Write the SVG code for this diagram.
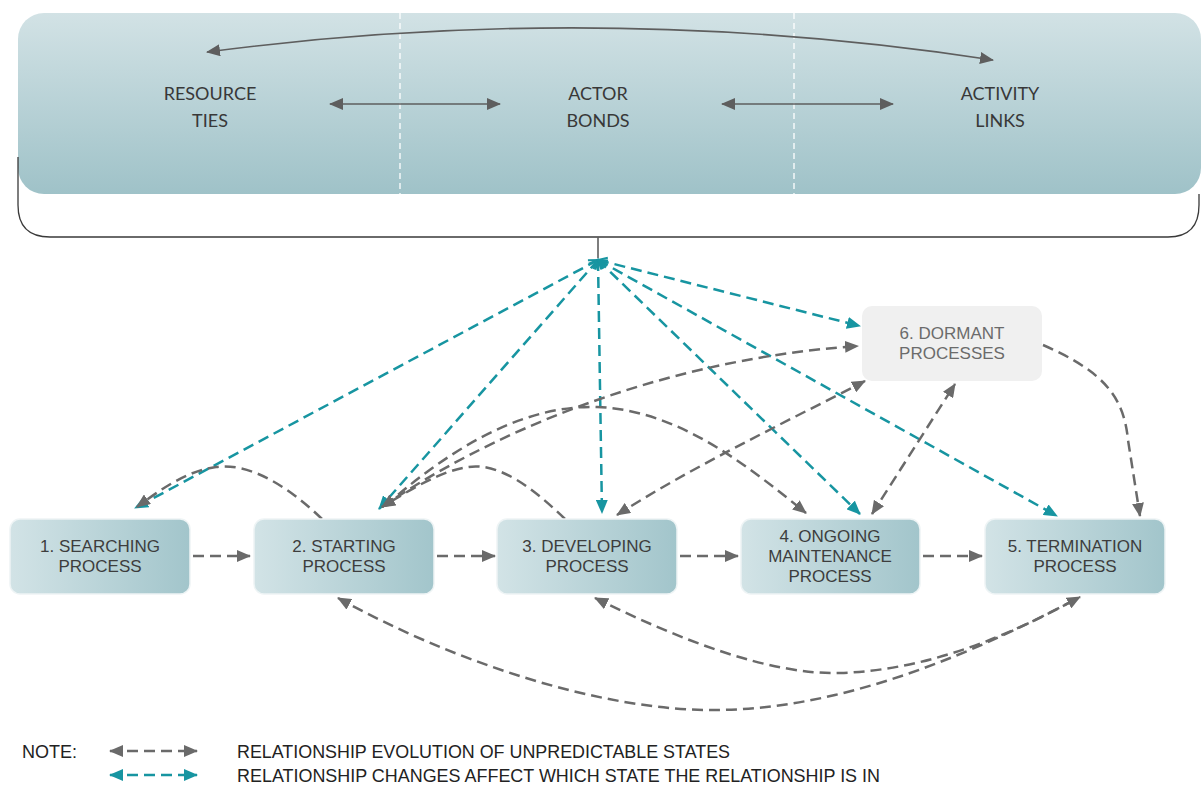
<svg xmlns="http://www.w3.org/2000/svg" width="1201" height="788" viewBox="0 0 1201 788">
<style>
.lbl{font-family:"Liberation Sans",Arial,sans-serif;font-size:17px;fill:#3d3d3d;text-anchor:middle}
.dlbl{font-family:"Liberation Sans",Arial,sans-serif;font-size:17px;fill:#6b6b6b;text-anchor:middle}
.top{font-family:Lato,"Open Sans",sans-serif;font-size:18px;fill:#383838;text-anchor:middle}
.leg{font-family:"Liberation Sans",Arial,sans-serif;font-size:18px;fill:#222}
.g{fill:none;stroke:#6a6a6a;stroke-width:2.5;stroke-dasharray:11 6}
.t{fill:none;stroke:#1795a1;stroke-width:2.5;stroke-dasharray:11 6}
.solid{fill:none;stroke:#5e5e5e;stroke-width:1.6}
</style>
<defs>
<linearGradient id="topG" x1="0" y1="0" x2="0" y2="1">
<stop offset="0" stop-color="#d2e2e5"/>
<stop offset="1" stop-color="#9fc2c8"/>
</linearGradient>
<linearGradient id="nodeG" x1="0" y1="0" x2="1" y2="0">
<stop offset="0" stop-color="#d2e3e6"/>
<stop offset="1" stop-color="#a2c5cb"/>
</linearGradient>
<marker id="ag" markerUnits="userSpaceOnUse" markerWidth="14" markerHeight="12" refX="13" refY="6" orient="auto-start-reverse">
<path d="M0,0 L14,6 L0,12 z" fill="#6a6a6a"/>
</marker>
<marker id="at" markerUnits="userSpaceOnUse" markerWidth="14" markerHeight="12" refX="13" refY="6" orient="auto-start-reverse">
<path d="M0,0 L14,6 L0,12 z" fill="#1795a1"/>
</marker>
<marker id="ah" markerUnits="userSpaceOnUse" markerWidth="12" markerHeight="12" refX="10" refY="6" orient="auto-start-reverse">
<path d="M1,1.5 L10,6 L1,10.5" fill="none" stroke="#1795a1" stroke-width="2"/>
</marker>
<marker id="as" markerUnits="userSpaceOnUse" markerWidth="14" markerHeight="12" refX="13" refY="6" orient="auto-start-reverse">
<path d="M0,0 L14,6 L0,12 z" fill="#5e5e5e"/>
</marker>
</defs>

<g id="top-panel">
<rect x="18" y="13" width="1183" height="181" rx="26" fill="url(#topG)"/>
<line x1="400" y1="13" x2="400" y2="194" stroke="#ffffff" stroke-width="1.3" stroke-dasharray="6 4"/>
<line x1="794" y1="13" x2="794" y2="194" stroke="#ffffff" stroke-width="1.3" stroke-dasharray="6 4"/>
<text class="top" x="210" y="100">RESOURCE</text>
<text class="top" x="210" y="127">TIES</text>
<text class="top" x="598" y="100">ACTOR</text>
<text class="top" x="598" y="127">BONDS</text>
<text class="top" x="1000" y="100">ACTIVITY</text>
<text class="top" x="1000" y="127">LINKS</text>
<path class="solid" d="M330,104 H500" marker-start="url(#as)" marker-end="url(#as)"/>
<path class="solid" d="M722,104 H893" marker-start="url(#as)" marker-end="url(#as)"/>
<path class="solid" d="M207,52 Q600,0 993,60" marker-start="url(#as)" marker-end="url(#as)"/>
</g>

<g id="bracket">
<path d="M18,157 V205 Q18,237 50,237 H1168 Q1199,237 1199,205 V194" fill="none" stroke="#3a3a3a" stroke-width="1.3"/>
<path d="M598,237 V258" fill="none" stroke="#5e5e5e" stroke-width="1.6"/>
</g>

<g id="connectors">
<!-- teal -->
<path class="t" d="M598,260 L135,508" marker-start="url(#ah)" marker-end="url(#at)"/>
<path class="t" d="M598,260 L379,509" marker-start="url(#ah)" marker-end="url(#at)"/>
<path class="t" d="M598,260 L602,513" marker-start="url(#ah)" marker-end="url(#at)"/>
<path class="t" d="M598,260 L860,514" marker-start="url(#ah)" marker-end="url(#at)"/>
<path class="t" d="M598,260 L1057,516" marker-start="url(#ah)" marker-end="url(#at)"/>
<path class="t" d="M598,260 L860,326" marker-start="url(#ah)" marker-end="url(#at)"/>
<!-- gray horizontal -->
<path class="g" d="M193,556 H250" marker-end="url(#ag)"/>
<path class="g" d="M437,556 H495" marker-end="url(#ag)"/>
<path class="g" d="M680,556 H738" marker-end="url(#ag)"/>
<path class="g" d="M923,556 H982" marker-end="url(#ag)"/>
<!-- gray arches -->
<path class="g" d="M322,519 C292,490 252,462 216,467 C186,471 160,490 137,507" marker-end="url(#ag)"/>
<path class="g" d="M565,519 C535,490 500,462 468,467 C440,471 410,490 382,507" marker-end="url(#ag)"/>
<path class="g" d="M382,507 C480,440 650,360 858,346" marker-start="url(#ag)" marker-end="url(#ag)"/>
<path class="g" d="M385,506 C460,440 530,405 597,407 C680,410 750,468 806,513" marker-end="url(#ag)"/>
<path class="g" d="M617,515 C690,468 780,425 865,381" marker-start="url(#ag)" marker-end="url(#ag)"/>
<path class="g" d="M872,514 L955,384" marker-start="url(#ag)" marker-end="url(#ag)"/>
<path class="g" d="M1043,345 C1105,372 1124,398 1128,440 L1140,516" marker-end="url(#ag)"/>
<path class="g" d="M338,598 C450,660 600,712 720,710 C850,708 980,650 1080,597" marker-start="url(#ag)" marker-end="url(#ag)"/>
<path class="g" d="M595,598 C680,640 770,675 840,673 C930,670 1010,635 1078,598" marker-start="url(#ag)"/>
</g>

<g id="node1">
<rect x="10" y="519" width="180" height="75" rx="10" fill="url(#nodeG)" stroke="#eef4f5" stroke-width="1.5"/>
<text class="lbl" x="100" y="552">1. SEARCHING</text>
<text class="lbl" x="100" y="572">PROCESS</text>
</g>
<g id="node2">
<rect x="254" y="519" width="180" height="75" rx="10" fill="url(#nodeG)" stroke="#eef4f5" stroke-width="1.5"/>
<text class="lbl" x="344" y="552">2. STARTING</text>
<text class="lbl" x="344" y="572">PROCESS</text>
</g>
<g id="node3">
<rect x="497" y="519" width="180" height="75" rx="10" fill="url(#nodeG)" stroke="#eef4f5" stroke-width="1.5"/>
<text class="lbl" x="587" y="552">3. DEVELOPING</text>
<text class="lbl" x="587" y="572">PROCESS</text>
</g>
<g id="node4">
<rect x="741" y="519" width="179" height="75" rx="10" fill="url(#nodeG)" stroke="#eef4f5" stroke-width="1.5"/>
<text class="lbl" x="830" y="542">4. ONGOING</text>
<text class="lbl" x="830" y="562">MAINTENANCE</text>
<text class="lbl" x="830" y="582">PROCESS</text>
</g>
<g id="node5">
<rect x="985" y="519" width="180" height="75" rx="10" fill="url(#nodeG)" stroke="#eef4f5" stroke-width="1.5"/>
<text class="lbl" x="1075" y="552">5. TERMINATION</text>
<text class="lbl" x="1075" y="572">PROCESS</text>
</g>
<g id="node6">
<rect x="862" y="306" width="180" height="75" rx="10" fill="#f0f0f0"/>
<text class="dlbl" x="952" y="339">6. DORMANT</text>
<text class="dlbl" x="952" y="359">PROCESSES</text>
</g>

<g id="legend">
<text class="leg" x="22" y="758">NOTE:</text>
<path class="g" d="M110,751 H197" stroke-dasharray="9 7" marker-start="url(#ag)" marker-end="url(#ag)"/>
<path class="t" d="M110,775 H197" stroke-dasharray="9 7" marker-start="url(#at)" marker-end="url(#at)"/>
<text class="leg" x="237" y="758" textLength="493" lengthAdjust="spacingAndGlyphs">RELATIONSHIP EVOLUTION OF UNPREDICTABLE STATES</text>
<text class="leg" x="237" y="782" textLength="643" lengthAdjust="spacingAndGlyphs">RELATIONSHIP CHANGES AFFECT WHICH STATE THE RELATIONSHIP IS IN</text>
</g>
</svg>
